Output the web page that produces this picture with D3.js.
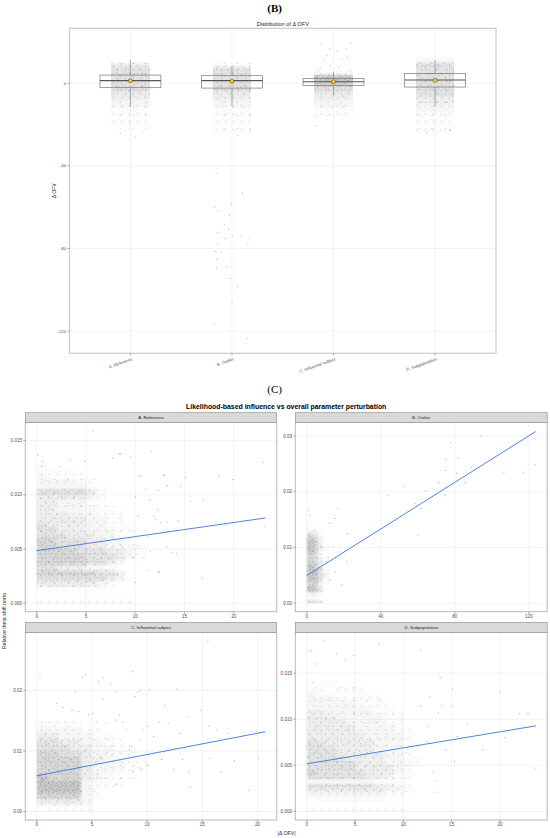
<!DOCTYPE html>
<html>
<head>
<meta charset="utf-8">
<script src="https://cdnjs.cloudflare.com/ajax/libs/d3/7.8.5/d3.min.js"></script>
<style>
body { margin: 0; background: #fff; }
svg { display: block; }
text { font-family: "Liberation Sans", Arial, sans-serif; }
</style>
</head>
<body>
<div id="chart"></div>
<script>
// ---- (B) distribution of delta OFV ----
const groups = ["A. Reference", "B. Outlier", "C. Influential subject", "D. Subpopulation"];
const boxQ1 = [-2.1, -2.3, -1.1, -1.8];
const boxMedian = [1.3, 1.3, 0.8, 1.6];
const boxQ3 = [4.0, 3.7, 2.3, 4.8];
const whiskerLow = [-11.2, -11.0, -5.7, -11.3];
const whiskerHigh = [11.2, 8.4, 5.7, 11.2];
const groupMean = [1.3, 1.0, 0.8, 1.5];
const ofvRange = [-123.6, 19.5];
const ofvTicks = [-120, -80, -40, 0];
// jittered points, density level per 2-unit band, from y = 12 downwards
const jitterBins = [12, 2];
const jitterDensity = [
  "0344444433221111100",
  "0144444433221111110",
  "0001665433221100000",
  "2444444443322111110"
];
// single points: [group, jitter offset, delta OFV]
const jitterSparse = [
  [1,-0.169,-60.0],[1,-0.138,-61.8],[1,-0.007,-58.3],[1,0.103,-53.1],[1,-0.024,-63.9],
  [1,-0.076,-68.3],[1,-0.034,-70.7],[1,-0.145,-72.3],[1,-0.066,-75.1],[1,0.004,-74.3],
  [1,0.09,-74.0],[1,0.159,-74.8],[1,-0.138,-77.7],[1,0.155,-78.3],[1,-0.103,-81.7],
  [1,-0.166,-81.3],[1,-0.152,-85.3],[1,-0.048,-88.8],[1,-0.152,-89.3],[1,-0.018,-94.5],
  [1,0.055,-98.2],[1,0,-106.3],[1,-0.172,-116.8],[1,0.152,-123.6],[1,-0.155,-43.5],
  [2,-0.038,16.7],[2,0.034,15.8],[2,0.126,16.7],[2,-0.064,13.4],[2,-0.097,11.0],
  [2,0.083,11.8],[2,0.133,12.6],[2,-0.031,8.5],[2,0.05,7.8],[2,-0.13,7.8],
  [2,0.165,6.1],[2,-0.147,6.1],[2,0.173,19.5],[2,-0.12,18.6],[2,-0.172,-20.6],
  [0,-0.1,-24.5],[0,0.12,-23.2],[0,0.05,-26.0],[3,-0.08,-24.0],[3,0.15,-22.8],[1,0.06,-25.0]
];

// ---- (C) likelihood-based influence vs parameter perturbation ----
const facetXRange = [[0, 23.2], [0, 123.7], [0, 20.7], [0, 23.7]];
const facetYRange = [[0, 0.0159], [0, 0.0309], [0, 0.0282], [0, 0.0185]];
const facetXTicks = [[0, 5, 10, 15, 20], [0, 40, 80, 120], [0, 5, 10, 15, 20], [0, 5, 10, 15, 20]];
const facetYTicks = [[0, 0.005, 0.01, 0.015], [0, 0.01, 0.02, 0.03], [0, 0.01, 0.02], [0, 0.005, 0.01, 0.015]];
const facetYFormat = [".3f", ".2f", ".2f", ".3f"];
const fitStart = [0.00484, 0.00495, 0.0059, 0.00516];
const fitEnd = [0.00786, 0.0308, 0.01317, 0.00928];
// density grids: [x bin, y bin], rows listed from the top, bottom row starts at 0
const gridStep = [[1, 0.0005], [2, 0.0005], [1, 0.001], [1, 0.0005]];
const gridA = [
  "100000000000","111100000000","211110000000","222211000000","222221100000",
  "444443100000","333332100000","332221100000","332222110000","333222111000",
  "333332211000","433332211100","443332221100","444333221100","554443322100",
  "554443322110","555544433210","555554443210","555554432000","443332210000",
  "555555443000","444444432000","333333210000","111111100000","000000000000",
  "111111111100"
];
const gridB = [
  "100000","110000","211000","332100","443100","554210","665210","665310",
  "665321","665321","665210","554210","554211","554321","555321","665321",
  "665421","666421","666432","666432","666421","555321","555310","665310",
  "666420","222100","221000","000000","444300"
];
const gridC = [
  "111100000000","222211000000","332221100000","443322110000","444332211000",
  "554432211000","555533221100","555532221100","555532211000","655532111000",
  "666621110000","666621000000","555521000000","333320000000","011110000000"
];
const gridD = [
  "1000000000000","1110100000000","1101110000000","2111111000000","2221111100000",
  "2222211100000","2222221110000","3322222111000","3332222211000","3333222211000",
  "3333322221000","3333322221100","3333332222100","4333333222100","4433333222110",
  "4443333222110","4443333322100","4444333322110","4444433322110","4444433332100",
  "5444443332100","4444443321100","2222222111000","4444444332100","3333333322100",
  "2222222211000","0111111100000","0000000000000","1111111111000"
];
const grids = [gridA, gridB, gridC, gridD];
const sparseA = [
  [5.7,0.0159],[7.7,0.0134],[8.5,0.0138],[11.6,0.0140],[10.4,0.0117],[13.0,0.0118],
  [15.1,0.0116],[18.5,0.0117],[19.9,0.0114],[23.0,0.0130],[13.3,0.0109],[14.6,0.0108],
  [15.6,0.0094],[11.9,0.0080],[12.6,0.0074],[14.4,0.0076],[16.9,0.0095],[13.2,0.0065],
  [13.7,0.0047],[14.2,0.0046],[16.8,0.0023],[11.4,0.0030],[12.4,0.0029],[23.1,0.0071],
  [19.2,0.0072],[9.55,0.0135],[8.4,0.0138],[10.5,0.0118],[12.9,0.0118],[11.1,0.0105],
  [12.3,0.0104],[13.2,0.0108],[10.0,0.0098],[11.5,0.0095],[12.1,0.0077],[13.2,0.0075],
  [12.8,0.0065],[10.9,0.0042],[11.5,0.0048],[12.4,0.0028],[10.0,0.0019],[11.3,0.0061],
  [13.2,0.0052],[12.3,0.0086],[10.3,0.0080],[0.1,0.0137],[0.6,0.0131],[2.3,0.0126],
  [3.4,0.0132],[4.9,0.0131]
];
const sparseB = [
  [94.3,0.0300],[77.8,0.0288],[75.1,0.0258],[81.7,0.0260],[74.9,0.0238],[88.7,0.0244],
  [81.0,0.0233],[106.5,0.0235],[117.0,0.0235],[52.9,0.0210],[71.1,0.0216],[85.7,0.0216],
  [43.8,0.0194],[64.3,0.0201],[74.5,0.0194],[58.5,0.0179],[61.6,0.0170],[60.1,0.0122],
  [123.6,0.0249],[16.9,0.0169],[12.6,0.0143],[15.3,0.0152],[22.0,0.0124],[18.9,0.0032],
  [12.6,0.0041],[15.3,0.0056],[18.0,0.0092],[21.6,0.0075],[0.9,0.0167],[1.5,0.0158],
  [14.4,0.0101],[10.8,0.0075]
];
const sparseC = [
  [0.3,0.0226],[4.1,0.0222],[4.4,0.0226],[5.6,0.0214],[6.0,0.0221],[6.7,0.0211],
  [7.2,0.0198],[8.7,0.0231],[8.9,0.0190],[9.2,0.0197],[3.5,0.0199],[6.0,0.0186],
  [1.8,0.0179],[2.4,0.0172],[3.2,0.0167],[3.8,0.0165],[4.7,0.0160],[5.1,0.0162],
  [7.5,0.0159],[5.4,0.0148],[6.3,0.0146],[7.2,0.0151],[8.1,0.0135],[9.3,0.0118],
  [9.6,0.0135],[8.4,0.0102],[10.1,0.0077],[7.2,0.0045],[5.5,0.0061],[8.7,0.0066],
  [9.3,0.0072],[15.5,0.0282],[10.2,0.0201],[12.7,0.0202],[9.4,0.0200],[14.9,0.0167],
  [13.8,0.0156],[11.6,0.0175],[13.0,0.0129],[11.9,0.0146],[15.6,0.0141],[16.3,0.0135],
  [17.3,0.0129],[10.6,0.0124],[11.1,0.0148],[13.2,0.0086],[12.4,0.0069],[13.8,0.0065],
  [15.7,0.0088],[16.7,0.0066],[17.9,0.0084],[20.1,0.0087],[19.2,0.0035],[13.9,0.0041],
  [9.5,0.0069],[11.3,0.0086],[8.6,0.0107],[10.0,0.0141],[7.8,0.0148]
];
const sparseD = [
  [1.8,0.0185],[0.2,0.0173],[0.9,0.0160],[7.5,0.0181],[11.8,0.0175],[3.1,0.0171],
  [4.0,0.0165],[4.9,0.0169],[13.8,0.0145],[15.1,0.0133],[20.0,0.0130],[14.0,0.0115],
  [15.1,0.0114],[12.7,0.0124],[11.8,0.0114],[12.6,0.0092],[13.6,0.0107],[16.6,0.0095],
  [20.5,0.0080],[22.0,0.0106],[22.9,0.0106],[23.7,0.0047],[14.4,0.0067],[15.3,0.0054],
  [13.5,0.0033],[13.5,0.0021],[13.1,0.0043],[15.6,0.0081],[12.4,0.0076],[18.2,0.0067],
  [0.5,0.0174]
];
const sparse = [sparseA, sparseB, sparseC, sparseD];

// ---- drawing ----
const W = 550, H = 838;
const svg = d3.select("#chart").append("svg").attr("width", W).attr("height", H);
const defs = svg.append("defs");

// soft tone + dot texture for the dense point clouds (three tile sizes so no lattice shows)
const toneOpacity = [0, 0.025, 0.075, 0.15, 0.24, 0.34, 0.47];
const textures = [
  ["a", 8, [[1.3,2.1],[5.4,6.0],[6.2,1.4],[2.2,5.7],[3.8,3.6],[0.4,7.5]], [0, 1, 1, 2, 3, 4, 6]],
  ["b", 11, [[2.0,8.1],[7.5,3.2],[9.8,9.4],[4.6,1.1],[0.9,4.4],[5.9,6.6],[8.7,0.4]], [0, 0, 1, 2, 3, 5, 7]],
  ["c", 13, [[3.1,11.6],[9.4,2.7],[12.2,7.9],[6.3,5.2],[1.0,1.8],[7.7,10.4]], [0, 1, 1, 2, 3, 4, 6]]
];
textures.forEach(([key, size, tile, counts]) => {
  counts.forEach((n, lv) => {
    if (!lv || !n) return;
    defs.append("pattern")
      .attr("id", `p${key}${lv}`)
      .attr("patternUnits", "userSpaceOnUse")
      .attr("width", size).attr("height", size)
      .selectAll("circle")
      .data(tile.slice(0, n))
      .join("circle")
      .attr("cx", d => d[0]).attr("cy", d => d[1])
      .attr("r", 0.5)
      .attr("fill", "#707070").attr("fill-opacity", 0.55);
  });
});
defs.append("filter").attr("id", "blurXY").append("feGaussianBlur").attr("stdDeviation", "1.2");
defs.append("filter").attr("id", "blurY").append("feGaussianBlur").attr("stdDeviation", "0 1.4");

function drawCloud(g, cells, blur) {
  g.append("g").attr("filter", `url(#${blur})`)
    .selectAll("rect").data(cells).join("rect")
    .attr("x", d => d.x).attr("y", d => d.y).attr("width", d => d.w).attr("height", d => d.h)
    .attr("shape-rendering", "crispEdges")
    .attr("fill", "#8c8c8c").attr("fill-opacity", d => toneOpacity[d.lv]);
  textures.forEach(([key, , , counts]) => {
    g.append("g").selectAll("rect").data(cells.filter(d => counts[d.lv] > 0)).join("rect")
      .attr("x", d => d.x).attr("y", d => d.y).attr("width", d => d.w).attr("height", d => d.h)
      .attr("fill", d => `url(#p${key}${d.lv})`);
  });
}

const expand = r => { const s = (r[1] - r[0]) * 0.05; return [r[0] - s, r[1] + s]; };
const gridCol = "#ebebeb", tickCol = "#4d4d4d";

// (B) header
svg.append("text").attr("x", 274.6).attr("y", 12).attr("text-anchor", "middle")
  .style("font-family", "'Liberation Serif', 'DejaVu Serif', serif")
  .style("font-size", "11px").style("font-weight", "bold").text("(B)");

const bp = { l: 69.5, r: 496, t: 28.3, b: 353.3 };
const xb = d3.scalePoint().domain(groups).range([bp.l, bp.r]).padding(0.6);
const yb = d3.scaleLinear().domain(expand(ofvRange)).range([bp.b, bp.t]);
const bw = xb.step() * 0.3, jw = xb.step() * 0.19;

svg.append("text").attr("x", (bp.l + bp.r) / 2).attr("y", 25.5).attr("text-anchor", "middle")
  .style("font-size", "5.6px").attr("fill", "#222").text("Distribution of Δ OFV");

const gB = svg.append("g");
gB.append("rect").attr("x", bp.l).attr("y", bp.t).attr("width", bp.r - bp.l).attr("height", bp.b - bp.t).attr("fill", "#fff");
gB.selectAll(".gy").data(ofvTicks).join("line")
  .attr("x1", bp.l).attr("x2", bp.r).attr("y1", d => yb(d)).attr("y2", d => yb(d))
  .attr("stroke", gridCol).attr("stroke-width", 0.6);
gB.selectAll(".gx").data(groups).join("line")
  .attr("x1", d => xb(d)).attr("x2", d => xb(d)).attr("y1", bp.t).attr("y2", bp.b)
  .attr("stroke", gridCol).attr("stroke-width", 0.6);

// jittered points
const jcells = [];
jitterDensity.forEach((row, i) => {
  row.split("").forEach((c, j) => {
    if (!+c) return;
    const top = jitterBins[0] - j * jitterBins[1];
    jcells.push({ lv: +c, x: xb(groups[i]) - jw, w: 2 * jw, y: yb(top), h: yb(top - jitterBins[1]) - yb(top) });
  });
});
drawCloud(gB, jcells, "blurY");
gB.selectAll(".js").data(jitterSparse).join("circle")
  .attr("cx", d => xb(groups[d[0]]) + d[1] * xb.step()).attr("cy", d => yb(d[2]))
  .attr("r", 0.6).attr("fill", "#6e6e6e").attr("fill-opacity", 0.5);

// boxes over the points
groups.forEach((g, i) => {
  const cx = xb(g);
  gB.append("line").attr("x1", cx).attr("x2", cx).attr("y1", yb(boxQ3[i])).attr("y2", yb(whiskerHigh[i]))
    .attr("stroke", "#777").attr("stroke-width", 0.6);
  gB.append("line").attr("x1", cx).attr("x2", cx).attr("y1", yb(boxQ1[i])).attr("y2", yb(whiskerLow[i]))
    .attr("stroke", "#777").attr("stroke-width", 0.6);
  gB.append("rect").attr("x", cx - bw).attr("width", 2 * bw)
    .attr("y", yb(boxQ3[i])).attr("height", yb(boxQ1[i]) - yb(boxQ3[i]))
    .attr("fill", "none").attr("stroke", "#777").attr("stroke-width", 0.7);
  gB.append("line").attr("x1", cx - bw).attr("x2", cx + bw).attr("y1", yb(boxMedian[i])).attr("y2", yb(boxMedian[i]))
    .attr("stroke", "#555").attr("stroke-width", 1.1);
  gB.append("circle").attr("cx", cx).attr("cy", yb(groupMean[i])).attr("r", 2)
    .attr("fill", "#ffd700").attr("stroke", "#333").attr("stroke-width", 0.5);
});
gB.append("rect").attr("x", bp.l).attr("y", bp.t).attr("width", bp.r - bp.l).attr("height", bp.b - bp.t)
  .attr("fill", "none").attr("stroke", "#cfcfcf").attr("stroke-width", 1.3);

// axes of (B)
gB.selectAll(".ty").data(ofvTicks).join("text")
  .attr("x", bp.l - 3.5).attr("y", d => yb(d)).attr("dy", "0.35em").attr("text-anchor", "end")
  .style("font-size", "4.2px").attr("fill", tickCol).text(d => d);
gB.selectAll(".tky").data(ofvTicks).join("line")
  .attr("x1", bp.l - 2).attr("x2", bp.l).attr("y1", d => yb(d)).attr("y2", d => yb(d))
  .attr("stroke", "#555").attr("stroke-width", 0.5);
gB.selectAll(".tkx").data(groups).join("line")
  .attr("x1", d => xb(d)).attr("x2", d => xb(d)).attr("y1", bp.b).attr("y2", bp.b + 2)
  .attr("stroke", "#555").attr("stroke-width", 0.5);
gB.selectAll(".tx").data(groups).join("text")
  .attr("transform", d => `translate(${xb(d) + 1},${bp.b + 4}) rotate(-20)`)
  .attr("dy", "0.7em").attr("text-anchor", "end")
  .style("font-size", "4.2px").attr("fill", tickCol).text(d => d);
svg.append("text").attr("transform", `translate(56,${(bp.t + bp.b) / 2}) rotate(-90)`)
  .attr("text-anchor", "middle").style("font-size", "5px").attr("fill", "#222").text("Δ OFV");

// (C) header
svg.append("text").attr("x", 274.6).attr("y", 392.5).attr("text-anchor", "middle")
  .style("font-family", "'Liberation Serif', 'DejaVu Serif', serif")
  .style("font-size", "11px").text("(C)");
svg.append("text").attr("x", 286.2).attr("y", 408.6).attr("text-anchor", "middle")
  .style("font-size", "6.9px").style("font-weight", "bold").text("Likelihood-based influence vs overall parameter perturbation");

const cols = [[25.3, 276.7], [295.3, 547.2]];
const rowsPos = [{ s: 412.7, t: 422.3, b: 611.7 }, { s: 622.3, t: 632.3, b: 820 }];

groups.forEach((name, i) => {
  const [x0, x1] = cols[i % 2];
  const rp = rowsPos[Math.floor(i / 2)];
  const xs = d3.scaleLinear().domain(expand(facetXRange[i])).range([x0, x1]);
  const ys = d3.scaleLinear().domain(expand(facetYRange[i])).range([rp.b, rp.t]);
  const g = svg.append("g");

  g.append("rect").attr("x", x0).attr("y", rp.t).attr("width", x1 - x0).attr("height", rp.b - rp.t).attr("fill", "#fff");
  g.selectAll(".gx").data(facetXTicks[i]).join("line")
    .attr("x1", d => xs(d)).attr("x2", d => xs(d)).attr("y1", rp.t).attr("y2", rp.b)
    .attr("stroke", gridCol).attr("stroke-width", 0.6);
  g.selectAll(".gy").data(facetYTicks[i]).join("line")
    .attr("x1", x0).attr("x2", x1).attr("y1", d => ys(d)).attr("y2", d => ys(d))
    .attr("stroke", gridCol).attr("stroke-width", 0.6);

  // dense cloud
  const [dx, dy] = gridStep[i];
  const rows = grids[i];
  const cells = [];
  rows.forEach((row, r) => {
    row.split("").forEach((c, k) => {
      if (!+c) return;
      const xv = k * dx, yv = (rows.length - 1 - r) * dy;
      cells.push({ lv: +c, x: xs(xv), w: xs(xv + dx) - xs(xv), y: ys(yv + dy), h: ys(yv) - ys(yv + dy) });
    });
  });
  drawCloud(g, cells, "blurXY");
  g.selectAll(".pt").data(sparse[i]).join("circle")
    .attr("cx", d => xs(d[0])).attr("cy", d => ys(d[1]))
    .attr("r", 0.65).attr("fill", "#6e6e6e").attr("fill-opacity", 0.5);

  // linear fit
  g.append("path")
    .datum([[facetXRange[i][0], fitStart[i]], [facetXRange[i][1], fitEnd[i]]])
    .attr("d", d3.line().x(d => xs(d[0])).y(d => ys(d[1])))
    .attr("stroke", "#3a78d8").attr("stroke-width", 0.9).attr("fill", "none");

  g.append("rect").attr("x", x0).attr("y", rp.t).attr("width", x1 - x0).attr("height", rp.b - rp.t)
    .attr("fill", "none").attr("stroke", "#b8b8b8").attr("stroke-width", 1);
  g.append("rect").attr("x", x0).attr("y", rp.s).attr("width", x1 - x0).attr("height", rp.t - rp.s)
    .attr("fill", "#d9d9d9").attr("stroke", "#8a8a8a").attr("stroke-width", 0.6);
  g.append("text").attr("x", (x0 + x1) / 2).attr("y", (rp.s + rp.t) / 2).attr("dy", "0.35em")
    .attr("text-anchor", "middle").style("font-size", "4.4px").attr("fill", "#1a1a1a").text(name);

  const fmt = d3.format(facetYFormat[i]);
  g.selectAll(".ty").data(facetYTicks[i]).join("text")
    .attr("x", x0 - 3.2).attr("y", d => ys(d)).attr("dy", "0.35em").attr("text-anchor", "end")
    .style("font-size", "4.6px").attr("fill", tickCol).text(d => fmt(d));
  g.selectAll(".tky").data(facetYTicks[i]).join("line")
    .attr("x1", x0 - 2).attr("x2", x0).attr("y1", d => ys(d)).attr("y2", d => ys(d))
    .attr("stroke", "#555").attr("stroke-width", 0.5);
  g.selectAll(".tx").data(facetXTicks[i]).join("text")
    .attr("x", d => xs(d)).attr("y", rp.b + 6.2).attr("text-anchor", "middle")
    .style("font-size", "4.6px").attr("fill", tickCol).text(d => d);
  g.selectAll(".tkx").data(facetXTicks[i]).join("line")
    .attr("x1", d => xs(d)).attr("x2", d => xs(d)).attr("y1", rp.b).attr("y2", rp.b + 2)
    .attr("stroke", "#555").attr("stroke-width", 0.5);
});

svg.append("text").attr("transform", "translate(6,621) rotate(-90)").attr("text-anchor", "middle")
  .style("font-size", "5.2px").attr("fill", "#222").text("Relative theta shift norm");
svg.append("text").attr("x", 286.6).attr("y", 835).attr("text-anchor", "middle")
  .style("font-size", "5.2px").attr("fill", "#222").text("|Δ OFV|");
</script>
</body>
</html>
